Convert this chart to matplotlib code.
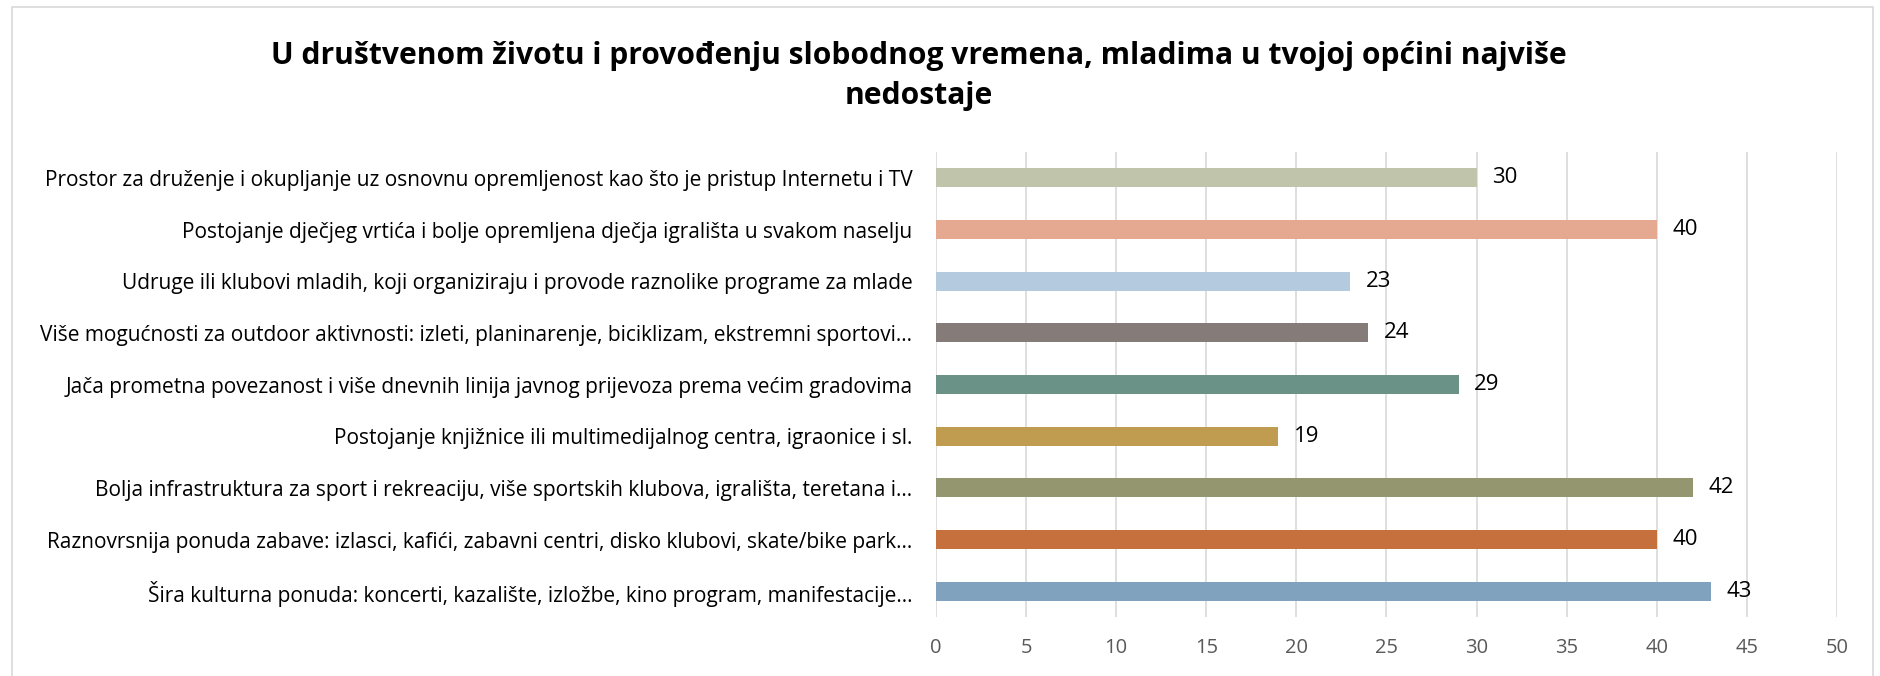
import matplotlib
matplotlib.use('Agg')
import matplotlib.pyplot as plt
from matplotlib.patches import Rectangle

kategorije = [
    'Prostor za druženje i okupljanje uz osnovnu opremljenost kao što je pristup Internetu i TV',
    'Postojanje dječjeg vrtića i bolje opremljena dječja igrališta u svakom naselju',
    'Udruge ili klubovi mladih, koji organiziraju i provode raznolike programe za mlade',
    'Više mogućnosti za outdoor aktivnosti: izleti, planinarenje, biciklizam, ekstremni sportovi...',
    'Jača prometna povezanost i više dnevnih linija javnog prijevoza prema većim gradovima',
    'Postojanje knjižnice ili multimedijalnog centra, igraonice i sl.',
    'Bolja infrastruktura za sport i rekreaciju, više sportskih klubova, igrališta, teretana i...',
    'Raznovrsnija ponuda zabave: izlasci, kafići, zabavni centri, disko klubovi, skate/bike park...',
    'Šira kulturna ponuda: koncerti, kazalište, izložbe, kino program, manifestacije...',
]
vrijednosti = [30, 40, 23, 24, 29, 19, 42, 40, 43]
boje = ['#BFC4AA', '#E5A890', '#B4CADF', '#857B78', '#6A9287',
        '#C09C51', '#93966E', '#C5703D', '#81A2BE']
x_ticks = [0, 5, 10, 15, 20, 25, 30, 35, 40, 45, 50]

plt.rcParams['font.family'] = ['Open Sans', 'DejaVu Sans']

fig = plt.figure(figsize=(18.81, 6.76), dpi=100)
ax = fig.add_axes([0.4976, 0.0873, 0.4790, 0.6877])

pozicije = list(range(len(kategorije)))
ax.barh(pozicije, vrijednosti, height=0.37, color=boje, zorder=3)

for p, v in zip(pozicije, vrijednosti):
    ax.annotate(str(v), (v, p), xytext=(11, 0), textcoords='offset points',
                va='center', ha='left', fontsize=16, color='#000000')

ax.set_ylim(len(kategorije) - 0.5, -0.5)
ax.set_xlim(0, 50)
ax.set_xticks(x_ticks)
ax.set_yticks(pozicije)
ax.set_yticklabels(kategorije, fontsize=15, color='#000000')
ax.tick_params(axis='y', length=0, pad=17)
ax.tick_params(axis='x', length=0, pad=15, labelsize=14.5, labelcolor='#595959')
ax.grid(axis='x', color='#D9D9D9', linewidth=1.2, zorder=0)
for s in ax.spines.values():
    s.set_visible(False)

fig.text(0.4886, 0.8876,
         'U društvenom životu i provođenju slobodnog vremena, mladima u tvojoj općini najviše\nnedostaje',
         ha='center', va='center', fontsize=21.6, fontweight='bold', linespacing=1.4)

fig.patches.append(Rectangle((12 / 1881, -0.05), (1873 - 12) / 1881, 1.05 - 7 / 676,
                             transform=fig.transFigure, fill=False,
                             edgecolor='#D9D9D9', linewidth=1.2))

fig.savefig('out.png', dpi=100, facecolor='white')
